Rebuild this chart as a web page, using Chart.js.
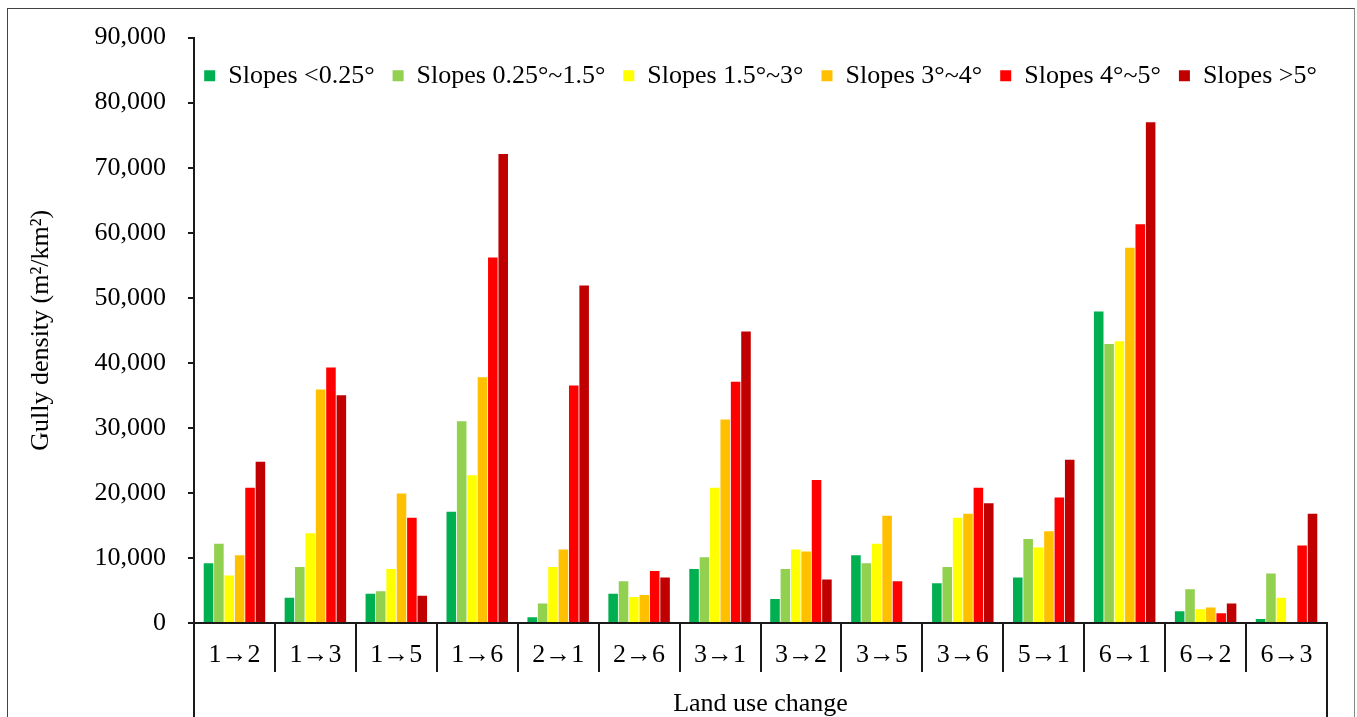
<!DOCTYPE html>
<html>
<head>
<meta charset="utf-8">
<script src="https://cdn.jsdelivr.net/npm/chart.js@4.4.1/dist/chart.umd.min.js"></script>
<style>
html,body{margin:0;padding:0;background:#fff;overflow:hidden;}
#wrap{position:relative;width:1357px;height:717px;}
#frame{position:absolute;left:7px;top:8px;width:1348px;height:760px;border:1.5px solid #444;border-right-color:#888;box-sizing:border-box;}
#c{position:absolute;left:0;top:0;}
</style>
</head>
<body>
<div id="wrap"><div id="frame"></div><canvas id="c"></canvas></div>
<script>
// ---- data ----
const categories = ['1→2','1→3','1→5','1→6','2→1','2→6','3→1','3→2','3→5','3→6','5→1','6→1','6→2','6→3'];
const seriesNames = ['Slopes <0.25°','Slopes 0.25°~1.5°','Slopes 1.5°~3°','Slopes 3°~4°','Slopes 4°~5°','Slopes >5°'];
const slopesBelow025 = [9200, 3900, 4500, 17100, 900, 4500, 8300, 3700, 10400, 6100, 7000, 47900, 1800, 600];
const slopes025to15  = [12200, 8600, 4900, 31000, 3000, 6400, 10100, 8300, 9200, 8600, 12900, 42900, 5200, 7600];
const slopes15to3    = [7300, 13800, 8300, 22700, 8600, 4000, 20800, 11300, 12200, 16200, 11600, 43300, 2100, 3900];
const slopes3to4     = [10400, 35900, 19900, 37800, 11300, 4300, 31300, 11000, 16500, 16800, 14100, 57700, 2400, 0];
const slopes4to5     = [20800, 39300, 16200, 56200, 36500, 8000, 37100, 22000, 6400, 20800, 19300, 61300, 1500, 11900];
const slopesAbove5   = [24800, 35000, 4200, 72100, 51900, 7000, 44800, 6700, 0, 18400, 25100, 77000, 3000, 16800];
const yTickLabels = ['0','10,000','20,000','30,000','40,000','50,000','60,000','70,000','80,000','90,000'];

// ---- styles ----
const seriesColors = ['#00B050','#92D050','#FFFF00','#FFC000','#FF0000','#C00000'];
const FONT = "'Liberation Serif','Times New Roman',serif";
const INK = '#1a1a1a';
Chart.defaults.font.family = FONT;
Chart.defaults.font.size = 26;
Chart.defaults.color = '#000';

const allSeries = [slopesBelow025, slopes025to15, slopes15to3, slopes3to4, slopes4to5, slopesAbove5];

// lines of the outer category box, running from the x axis to the bottom edge
const edgeLines = {
  id: 'edgeLines',
  afterDraw(chart) {
    const {ctx, chartArea} = chart;
    ctx.save();
    ctx.strokeStyle = INK;
    ctx.lineWidth = 2;
    ctx.beginPath();
    ctx.moveTo(chartArea.left, chartArea.bottom);
    ctx.lineTo(chartArea.left, chart.height);
    ctx.moveTo(chartArea.right, chartArea.bottom);
    ctx.lineTo(chartArea.right, chart.height);
    ctx.stroke();
    ctx.restore();
  }
};

// lay the legend out as one horizontal row inside the plot area
const LEGEND_SLACK = 20;
const inAreaLegend = {
  id: 'inAreaLegend',
  beforeLayout(chart) {
    const lg = chart.legend;
    if (!lg || lg._patched) return;
    lg._patched = true;
    lg.isHorizontal = () => true;
    const fitRows = lg._fitRows;
    lg._fitRows = function (...args) {
      this.maxWidth = 4000; // keep all items on one row
      return fitRows.apply(this, args);
    };
  },
  afterLayout(chart) {
    const lg = chart.legend;
    if (!lg) return;
    const a = chart.chartArea;
    // widen symmetrically so the row stays centred over the plot area
    lg.left = a.left - LEGEND_SLACK;
    lg.right = a.right + LEGEND_SLACK;
    lg.width = lg.right - lg.left;
    lg.top = a.top;
  }
};

new Chart(document.getElementById('c'), {
  type: 'bar',
  data: {
    labels: categories,
    datasets: allSeries.map((d, i) => ({
      label: seriesNames[i],
      data: d,
      backgroundColor: seriesColors[i],
      borderWidth: 0,
      categoryPercentage: 0.77,
      barPercentage: 0.92
    }))
  },
  options: {
    responsive: true,
    maintainAspectRatio: false,
    animation: false,
    layout: {padding: {left: 0, right: 30, top: 35, bottom: 0}},
    plugins: {
      tooltip: {enabled: false},
      legend: {
        position: 'chartArea',
        align: 'center',
        title: {display: true, text: ' ', padding: 0, font: {size: 6}},
        labels: {boxWidth: 11, boxHeight: 11, padding: 18, color: '#000', font: {size: 26}}
      }
    },
    scales: {
      x: {
        grid: {offset: true, drawOnChartArea: false, drawTicks: true, tickLength: 49, color: INK, lineWidth: 2},
        border: {display: true, color: INK, width: 2},
        ticks: {padding: -32, color: '#000', font: {size: 26}, maxRotation: 0, autoSkip: false},
        title: {display: true, text: 'Land use change', color: '#000', font: {size: 26}, padding: {top: 0, bottom: -3}},
        afterFit(s) { s.height = 94; }
      },
      y: {
        min: 0,
        max: 90000,
        grid: {drawOnChartArea: false, drawTicks: true, tickLength: 6, color: INK, lineWidth: 2},
        border: {display: true, color: INK, width: 2},
        ticks: {stepSize: 10000, padding: 22, color: '#000', font: {size: 26},
                callback: (v) => yTickLabels[Math.round(v / 10000)]},
        title: {display: true, text: 'Gully density (m²/km²)', color: '#000', font: {size: 26}, padding: {top: 26, bottom: 0}},
        afterFit(s) { s.width = 194; }
      }
    }
  },
  plugins: [inAreaLegend, edgeLines]
});
</script>
</body>
</html>
